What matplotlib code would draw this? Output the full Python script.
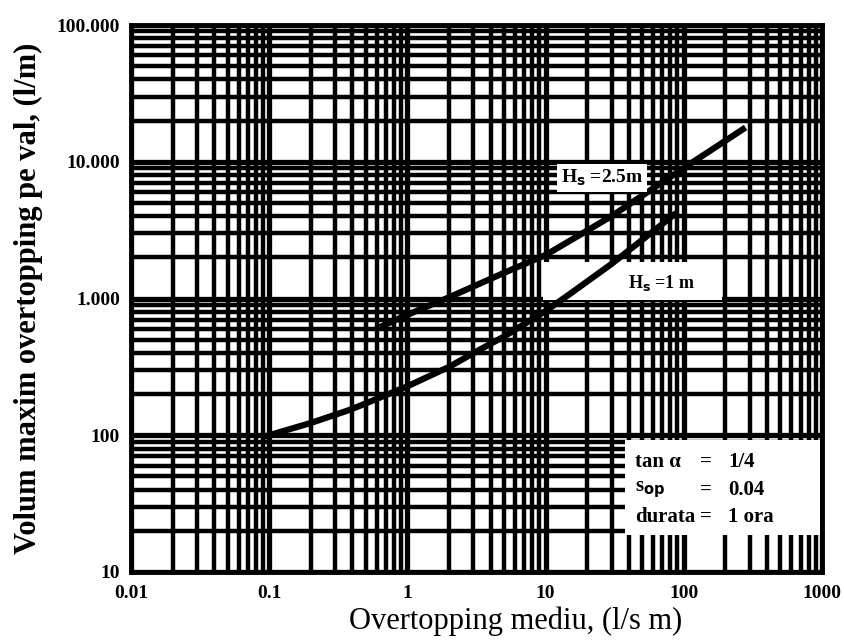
import matplotlib
matplotlib.use('Agg')
import matplotlib.pyplot as plt
from matplotlib.ticker import LogLocator, FixedLocator, NullFormatter
from matplotlib.patches import Rectangle
import numpy as np

# curves
q_25 = [0.63, 1, 2, 5, 10, 17, 30, 50, 100, 280]
v_25 = [617, 760, 1020, 1540, 2080, 2850, 4000, 5650, 9000, 17800]
q_10 = [0.09, 0.2, 0.38, 0.5, 1, 2, 3.3, 5, 10, 15, 30, 60, 88]
v_10 = [97, 123, 153, 171, 228, 316, 420, 527, 810, 1080, 1790, 3100, 4220]

x_ticks = [0.01, 0.1, 1, 10, 100, 1000]
x_labels = ['0.01', '0.1', '1', '10', '100', '1000']
y_ticks = [10, 100, 1000, 10000, 100000]
y_labels = ['10', '100', '1.000', '10.000', '100.000']

info_names = ['tan \u03b1', r's$_\mathbf{op}$', 'durata']
info_values = ['1/4', '0.04', '1 ora']

serif = 'Liberation Serif'

fig = plt.figure(figsize=(8.45, 6.42), dpi=100)
ax = fig.add_axes([131 / 845, 1 - 572 / 642, 691 / 845, 547 / 642])
ax.set_xscale('log')
ax.set_yscale('log')
ax.set_xlim(0.01, 1000)
ax.set_ylim(10, 100000)

ax.xaxis.set_major_locator(FixedLocator(x_ticks))
ax.yaxis.set_major_locator(FixedLocator(y_ticks))
ax.xaxis.set_minor_locator(LogLocator(base=10, subs=np.arange(2, 10)))
ax.yaxis.set_minor_locator(LogLocator(base=10, subs=np.arange(2, 10)))
ax.xaxis.set_minor_formatter(NullFormatter())
ax.yaxis.set_minor_formatter(NullFormatter())
ax.set_xticklabels(x_labels, fontfamily=serif, fontweight='bold', fontsize=14)
ax.set_yticklabels(y_labels, fontfamily=serif, fontweight='bold', fontsize=14)
ax.tick_params(axis='x', which='both', length=0, pad=9)
ax.tick_params(axis='y', which='both', length=0, pad=8)

ax.grid(which='major', color='black', linewidth=3.8)
ax.grid(which='minor', color='black', linewidth=3.2)
for s in ax.spines.values():
    s.set_linewidth(3.5)

# white box behind the Hs=1m label
ax.add_patch(Rectangle((9.5, 975), 188 - 9.5, 1850 - 975, facecolor='white',
                       edgecolor='none', zorder=2.5))

ax.plot(q_25, v_25, color='black', linewidth=4.5, solid_capstyle='butt', zorder=3)
ax.plot(q_10, v_10, color='black', linewidth=4.5, solid_capstyle='butt', zorder=3)

ax.text(25.5, 7600, r'H$_\mathbf{s}$ =2.5m', fontfamily=serif, fontweight='bold', fontsize=14,
        ha='center', va='center', zorder=4,
        bbox=dict(boxstyle='square,pad=0.2', facecolor='white', edgecolor='none'))
ax.text(69, 1300, r'H$_\mathbf{s}$ =1 m', fontfamily=serif, fontweight='bold', fontsize=13,
        ha='center', va='center', zorder=4)

# info box, bottom right
ax.add_patch(Rectangle((0.715, 0.068), 0.282, 0.173, transform=ax.transAxes,
                       facecolor='white', edgecolor='none', zorder=4))
rows_y = [0.201, 0.150, 0.101]
for name, val, y in zip(info_names, info_values, rows_y):
    kw = dict(transform=ax.transAxes, fontfamily=serif, fontweight='bold', fontsize=15,
              va='center', zorder=5)
    ax.text(0.730, y, name, ha='left', **kw)
    ax.text(0.823, y, '=', ha='left', **kw)
    ax.text(0.864, y, val, ha='left', **kw)

ax.set_xlabel('Overtopping mediu, (l/s m)', fontfamily=serif, fontsize=22)
ax.xaxis.set_label_coords(0.557, -0.063)
ax.set_ylabel('Volum maxim overtopping pe val, (l/m)', fontfamily=serif, fontweight='bold',
              fontsize=22)
ax.yaxis.set_label_coords(-0.128, 0.5)

fig.savefig('out.png', dpi=100)
